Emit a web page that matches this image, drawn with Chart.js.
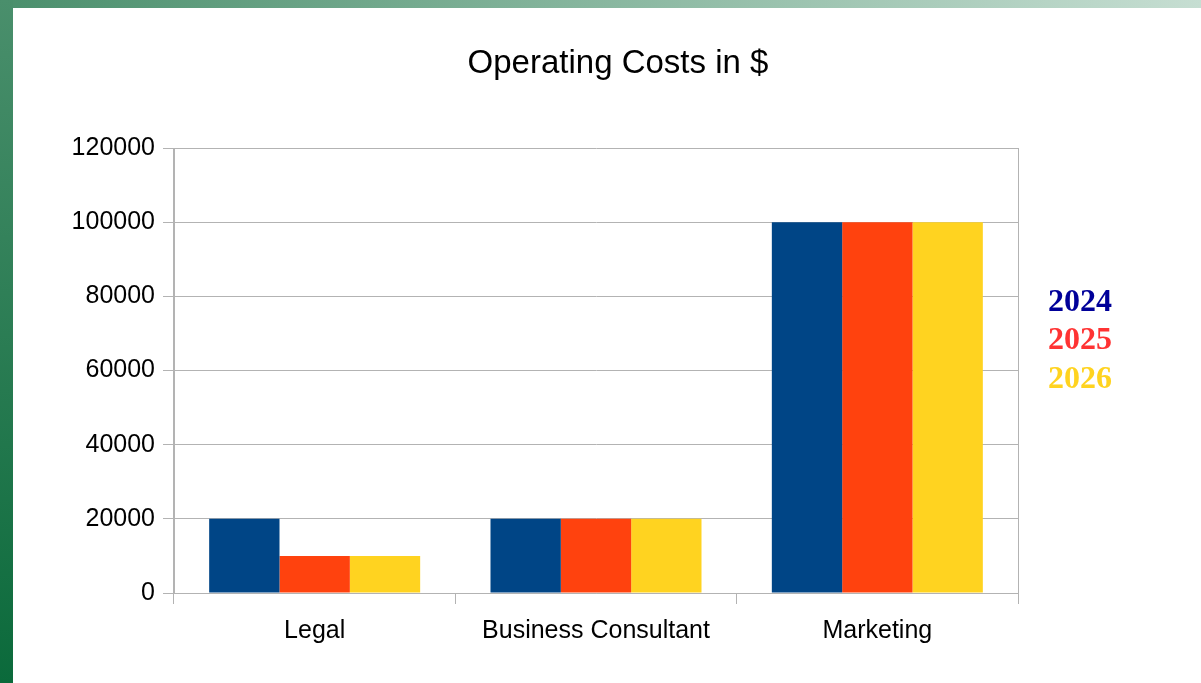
<!DOCTYPE html>
<html>
<head>
<meta charset="utf-8">
<script src="https://cdn.jsdelivr.net/npm/chart.js@4.4.1/dist/chart.umd.min.js"></script>
<style>
  html, body { margin: 0; padding: 0; width: 1201px; height: 683px; overflow: hidden; background: #fff; }
  #topbar { position: absolute; left: 0; top: 0; width: 1201px; height: 8px;
    background: linear-gradient(to right, #4a8f6c, #c6ded2); }
  #leftbar { position: absolute; left: 0; top: 0; width: 13px; height: 683px;
    background: linear-gradient(to bottom, #4a8f6c, #0b6a3b); }
  #wrap { position: absolute; left: 35px; top: 8px; width: 1166px; height: 675px; }
  .leg { position: absolute; left: 1048px; font-family: "Liberation Serif", serif; font-weight: bold; font-size: 32px; line-height: 38px; }
</style>
</head>
<body>
<div id="topbar"></div>
<div id="leftbar"></div>
<div id="wrap"><canvas id="c" width="1166" height="675"></canvas></div>
<div class="leg" id="l0" style="top:281px;"></div>
<div class="leg" id="l1" style="top:319px;"></div>
<div class="leg" id="l2" style="top:358px;"></div>
<script>
const chartTitle = "Operating Costs in $";
const categories = ["Legal", "Business Consultant", "Marketing"];
const seriesNames = ["2024", "2025", "2026"];
const values2024 = [20000, 20000, 100000];
const values2025 = [10000, 20000, 100000];
const values2026 = [10000, 20000, 100000];
const barColors = ["#004586", "#ff420e", "#ffd320"];
const legendColors = ["#000099", "#ff3333", "#ffd320"];

seriesNames.forEach((n, i) => {
  const el = document.getElementById('l' + i);
  el.textContent = n;
  el.style.color = legendColors[i];
});

const grid = '#b3b3b3';
const tickFont = { family: '"Liberation Sans", Arial, sans-serif', size: 25 };

const titlePlugin = {
  id: 'offsetTitle',
  afterDraw(chart) {
    const ctx = chart.ctx;
    ctx.save();
    ctx.font = '33px "Liberation Sans", Arial, sans-serif';
    ctx.fillStyle = '#000';
    ctx.textAlign = 'center';
    ctx.textBaseline = 'middle';
    ctx.fillText(chartTitle, 583, 56);
    ctx.restore();
  }
};

new Chart(document.getElementById('c'), {
  type: 'bar',
  data: {
    labels: categories,
    datasets: [
      { label: seriesNames[0], data: values2024, backgroundColor: barColors[0] },
      { label: seriesNames[1], data: values2025, backgroundColor: barColors[1] },
      { label: seriesNames[2], data: values2026, backgroundColor: barColors[2] }
    ]
  },
  plugins: [titlePlugin],
  options: {
    responsive: false,
    animation: false,
    layout: { padding: { left: 0, right: 183, top: 140, bottom: 0 } },
    categoryPercentage: 0.75,
    barPercentage: 1.0,
    plugins: {
      legend: { display: false },
      tooltip: { enabled: false },
      title: { display: false }
    },
    scales: {
      x: {
        afterFit: s => { s.height = 90; },
        grid: {
          offset: true,
          color: ctx => (ctx.type === 'scale' || ctx.index === 0) ? grid : 'rgba(0,0,0,0)',
          tickColor: grid,
          tickLength: 11,
          lineWidth: 1
        },
        border: { display: true, color: grid },
        ticks: { color: '#000', font: tickFont, padding: 12 }
      },
      y: {
        min: 0, max: 120000,
        afterFit: s => { s.width = 139; },
        grid: { color: grid, tickColor: grid, tickLength: 11 },
        border: { display: true, color: grid },
        ticks: { stepSize: 20000, color: '#000', font: tickFont, padding: 8,
                 callback: v => String(v) }
      }
    }
  }
});
</script>
</body>
</html>
